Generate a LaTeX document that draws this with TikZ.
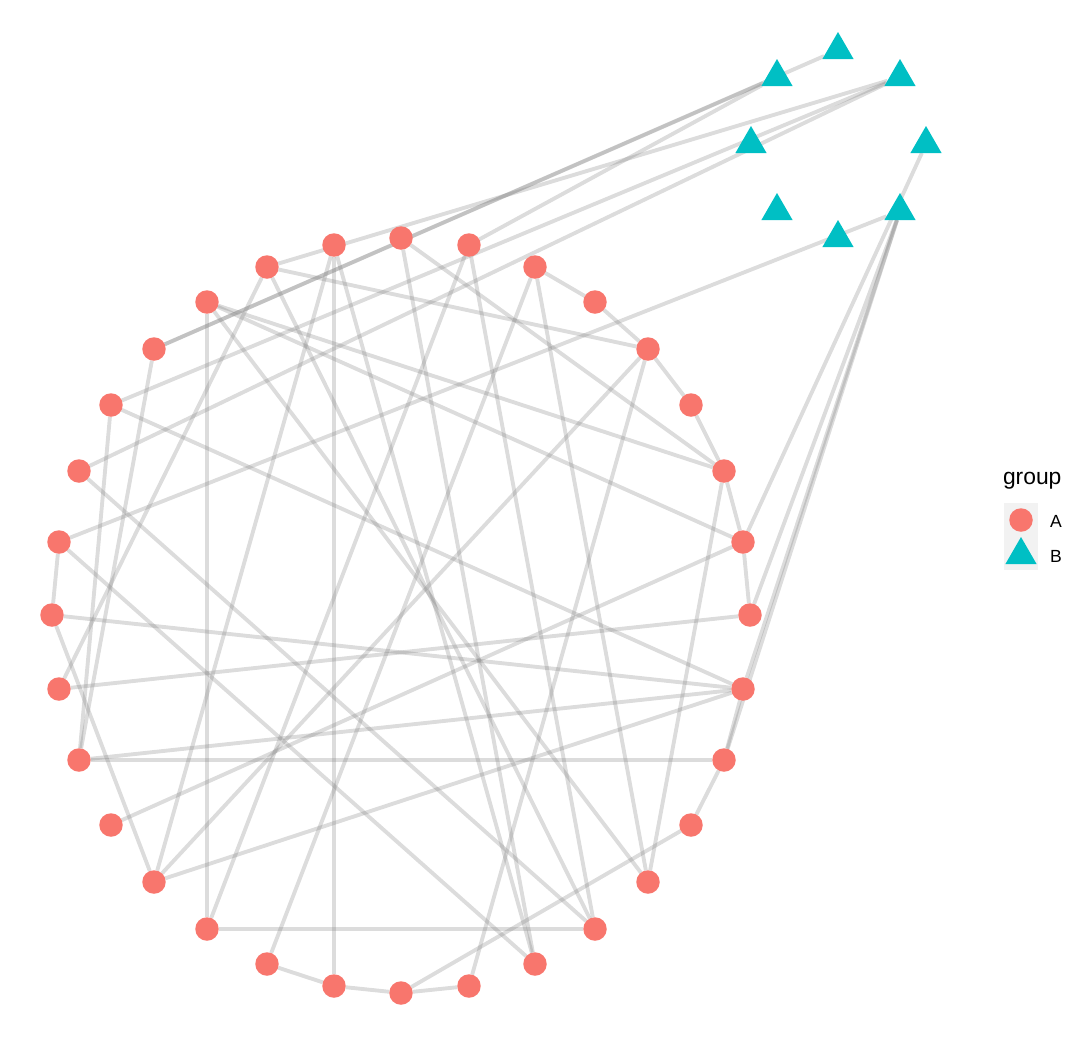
\documentclass[tikz,border=0pt]{standalone}
\usepackage{fontspec}
\setmainfont{Liberation Sans}
\usetikzlibrary{shapes.geometric}
\pgfdeclarelayer{background}
\pgfsetlayers{background,main}
\definecolor{groupA}{HTML}{F8766D}
\definecolor{groupB}{HTML}{00BFC4}
\definecolor{keybg}{HTML}{F2F2F2}

\begin{document}
\begin{tikzpicture}[x=0.02cm,y=-0.02cm]
        \tikzstyle{every node}=[inner sep=0pt, outer sep=0pt]
        \tikzstyle{ptA}=[circle, fill=groupA, minimum size=0.47cm]
        \tikzstyle{ptB}=[regular polygon, regular polygon sides=3, fill=groupB, minimum size=0.72cm]
        \tikzstyle{link}=[draw=gray, draw opacity=0.28, line width=2.2pt]
        \useasboundingbox (0,0) rectangle (1080,1046);
        % group A on the ring
        \foreach \name/\x/\y in {a1/401/238, a2/469/245, a3/535/267, a4/595/302, a5/648/349, a6/691/405,
                a7/724/471, a8/743/542, a9/750/615, a10/743/689, a11/724/760, a12/691/825, a13/648/882,
                a14/595/929, a15/535/964, a16/469/986, a17/401/993, a18/334/986, a19/267/964, a20/207/929,
                a21/154/882, a22/111/825, a23/79/760, a24/59/689, a25/52/615, a26/59/542, a27/79/471,
                a28/111/405, a29/154/349, a30/207/302, a31/267/267, a32/334/245}
            \node[ptA] (\name) at (\x,\y) {};
        % group B
        \foreach \name/\x/\y in {b1/838/50, b2/777/77, b3/900/77, b4/751/144, b5/926/144, b6/777/211,
                b7/900/211, b8/838/238}
            \node[ptB] (\name) at (\x,\y) {};
        % edges
        \begin{pgfonlayer}{background}
            \foreach \u/\v in {b1/a29, b2/a29, b2/a2, b3/a31, b3/a28, b3/a27, b7/a26, b5/a8, b7/a9, b7/a10, b7/a11,
                    a3/a4, a4/a5, a5/a6, a6/a7, a7/a8, a8/a9, a10/a11, a11/a12, a16/a17, a17/a18, a18/a19,
                    a20/a14, a23/a11, a23/a10, a30/a20, a32/a18, a31/a5, a31/a24, a31/a14, a30/a7, a30/a8,
                    a30/a13, a29/a23, a28/a23, a28/a10, a25/a10, a25/a21, a24/a9, a22/a8, a21/a5, a21/a10,
                    a21/a32, a26/a15, a27/a14, a7/a13, a3/a13, a2/a14, a32/a15, a1/a15, a5/a16, a12/a17,
                    a3/a19, a1/a7, a26/a25, a2/a20}
                \draw[link] (\u) -- (\v);
        \end{pgfonlayer}
        % legend
        \node[anchor=west, font=\fontsize{13}{13}\selectfont] (title) at (1003,481) {group};
        \fill[keybg] (1004,503) rectangle (1038,570);
        \node[ptA] (keyA) at (1021,520) {};
        \node[ptB] (keyB) at (1021,555) {};
        \node[anchor=west, font=\fontsize{10}{10}\selectfont] (labA) at (1050,521) {A};
        \node[anchor=west, font=\fontsize{10}{10}\selectfont] (labB) at (1050,556) {B};
\end{tikzpicture}
\end{document}
